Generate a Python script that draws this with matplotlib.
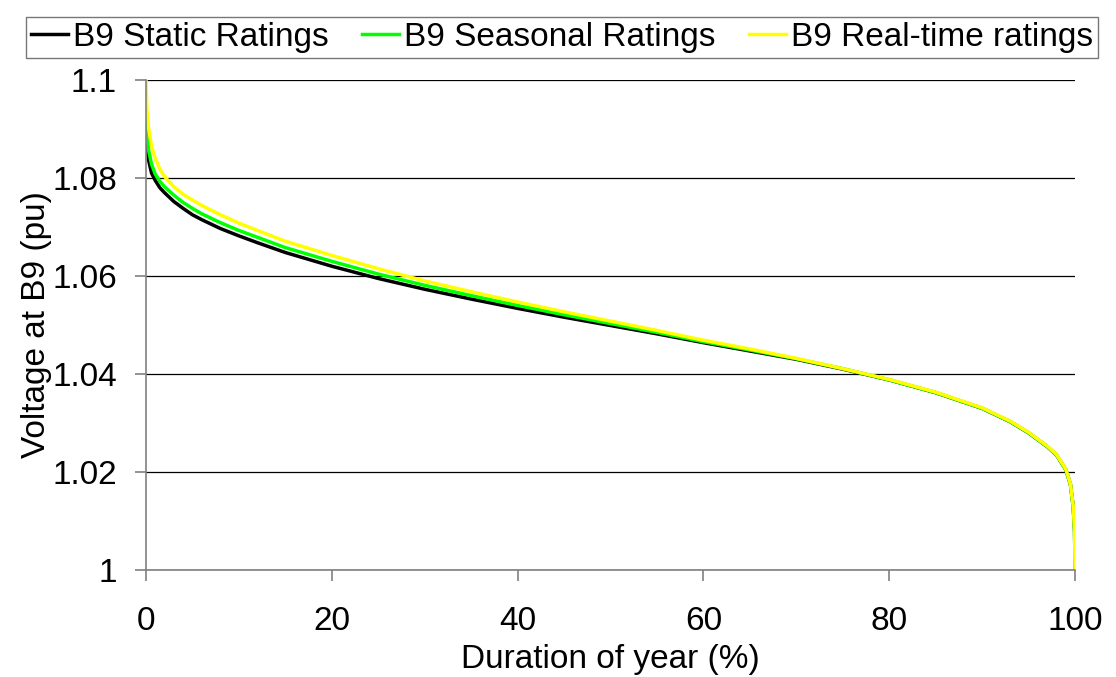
import matplotlib
matplotlib.use('Agg')
import matplotlib.pyplot as plt

plt.rcParams['font.family'] = ['Liberation Sans', 'DejaVu Sans']

# Duration of year (%)
duration = [0, 0.1, 0.3, 0.6, 1, 1.5, 2, 3, 4, 5, 6, 8, 10, 12, 15, 20, 25,
            30, 35, 40, 45, 50, 55, 60, 65, 70, 75, 80, 85, 90, 93, 95, 97,
            98, 99, 99.5, 99.8, 99.95, 100]

# Voltage at B9 (pu)
static_v = [1.0895, 1.0865, 1.0835, 1.0810, 1.0795, 1.0780, 1.0770, 1.0752,
            1.0738, 1.0725, 1.0715, 1.0697, 1.0682, 1.0668, 1.0648, 1.0620,
            1.0595, 1.0573, 1.0553, 1.0534, 1.0516, 1.0499, 1.0482, 1.0464,
            1.0447, 1.0430, 1.0410, 1.0388, 1.0362, 1.0330, 1.0303, 1.0280,
            1.0252, 1.0235, 1.0205, 1.0175, 1.0130, 1.0080, 1.0000]
seasonal_v = [1.0930, 1.0890, 1.0855, 1.0828, 1.0808, 1.0793, 1.0782, 1.0765,
              1.0750, 1.0738, 1.0727, 1.0709, 1.0693, 1.0679, 1.0658, 1.0630,
              1.0604, 1.0581, 1.0560, 1.0540, 1.0521, 1.0503, 1.0485, 1.0466,
              1.0449, 1.0431, 1.0411, 1.0388, 1.0362, 1.0330, 1.0303, 1.0280,
              1.0252, 1.0235, 1.0205, 1.0175, 1.0130, 1.0080, 1.0000]
realtime_v = [1.1000, 1.0940, 1.0900, 1.0865, 1.0840, 1.0818, 1.0803, 1.0782,
              1.0767, 1.0755, 1.0744, 1.0725, 1.0708, 1.0693, 1.0671, 1.0642,
              1.0615, 1.0590, 1.0568, 1.0547, 1.0527, 1.0508, 1.0489, 1.0469,
              1.0451, 1.0432, 1.0411, 1.0389, 1.0363, 1.0331, 1.0304, 1.0281,
              1.0253, 1.0236, 1.0206, 1.0176, 1.0131, 1.0081, 1.0000]

y_ticks = [1.0, 1.02, 1.04, 1.06, 1.08, 1.1]
y_labels = ['1', '1.02', '1.04', '1.06', '1.08', '1.1']
x_ticks = [0, 20, 40, 60, 80, 100]

fig = plt.figure(figsize=(11.16, 6.77), dpi=100)
ax = fig.add_axes([0.1308, 0.158, 0.8325, 0.7238])

ax.plot(duration, static_v, color='black', linewidth=2.5, label='B9 Static Ratings')
ax.plot(duration, seasonal_v, color='#00ff00', linewidth=2.5, label='B9 Seasonal Ratings')
ax.plot(duration, realtime_v, color='#ffff00', linewidth=2.5, label='B9 Real-time ratings')

ax.set_xlim(0, 100)
ax.set_ylim(1.0, 1.1)
ax.set_yticks(y_ticks)
ax.set_yticklabels(y_labels)
ax.set_xticks(x_ticks)
ax.tick_params(axis='both', labelsize=24, direction='out', length=8,
               width=1.2, color='#808080')
ax.tick_params(axis='x', pad=18)
ax.tick_params(axis='y', pad=13)
ax.yaxis.grid(True, color='black', linewidth=0.9)
ax.set_axisbelow(True)
for side in ['top', 'right']:
    ax.spines[side].set_visible(False)
ax.spines['left'].set_color('#808080')
ax.spines['bottom'].set_color('#808080')
ax.spines['left'].set_linewidth(1.2)
ax.spines['bottom'].set_linewidth(1.2)

ax.set_xlabel('Duration of year (%)', fontsize=24, labelpad=5)
ax.set_ylabel('Voltage at B9 (pu)', fontsize=24, labelpad=0)

leg = fig.legend(loc='upper left', bbox_to_anchor=(0.0233, 0.975, 0.9606, 0),
                 mode='expand', ncol=3, fontsize=24, frameon=True,
                 fancybox=False, handlelength=1.1, handletextpad=0.15,
                 columnspacing=0.5, borderpad=0.15, borderaxespad=0)
leg.get_frame().set_edgecolor('#555555')
leg.get_frame().set_linewidth(1.0)
for line in leg.get_lines():
    line.set_linewidth(2.5)

fig.savefig('out.png', dpi=100)
